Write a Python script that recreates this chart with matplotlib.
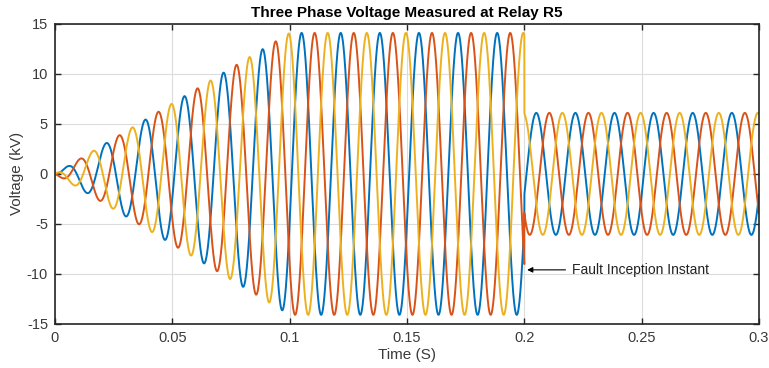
import numpy as np
import matplotlib
matplotlib.use('Agg')
import matplotlib.pyplot as plt

# values
freq_hz = 60.0
phase_deg = {'A': -20.0, 'B': -140.0, 'C': -260.0}   # phase A leads, B and C follow by 120 deg
colors = {'A': '#0072BD', 'B': '#D95319', 'C': '#EDB120'}
ramp_end = 0.1        # s, amplitude grows linearly until here
pre_fault_amp = 14.1  # kV peak before fault
fault_time = 0.2      # s
post_fault_amp = 6.1  # kV peak after fault

x_ticks = [0, 0.05, 0.1, 0.15, 0.2, 0.25, 0.3]
x_labels = ['0', '0.05', '0.1', '0.15', '0.2', '0.25', '0.3']
y_ticks = [-15, -10, -5, 0, 5, 10, 15]

plt.rcParams['font.family'] = ['Liberation Sans', 'DejaVu Sans']
plt.rcParams['axes.unicode_minus'] = False

t = np.arange(0, 0.3 + 1e-6, 1e-5)
env = np.where(t < fault_time, pre_fault_amp * np.clip(t / ramp_end, 0, 1), post_fault_amp)

fig = plt.figure(figsize=(7.69, 3.68), dpi=100)
ax = fig.add_axes([0.0715, 0.12, 0.9155, 0.815])

for ph in ['A', 'B', 'C']:
    v = env * np.sin(2 * np.pi * freq_hz * t + np.deg2rad(phase_deg[ph]))
    ax.plot(t, v, color=colors[ph], lw=1.4)

ax.set_xlim(0, 0.3)
ax.set_ylim(-15, 15)
ax.set_xticks(x_ticks)
ax.set_xticklabels(x_labels)
ax.set_yticks(y_ticks)
ax.grid(True, color='#dcdcdc', lw=0.8)
ax.set_axisbelow(True)
ax.tick_params(direction='in', top=True, right=True, length=4, width=1, pad=5,
               labelsize=10.5, colors='#262626', labelcolor='#3a3a3a')
for s in ax.spines.values():
    s.set_color('#262626')
    s.set_linewidth(1.2)

ax.set_title('Three Phase Voltage Measured at Relay R5', fontsize=11, fontweight='bold', pad=5)
ax.set_xlabel('Time (S)', fontsize=11, color='#3a3a3a', labelpad=2)
ax.set_ylabel('Voltage (kV)', fontsize=11, color='#3a3a3a', labelpad=2)

ax.annotate('Fault Inception Instant', xy=(0.2012, -9.6), xytext=(0.2205, -9.6),
            va='center', fontsize=10, color='#222222',
            arrowprops=dict(arrowstyle='-|>', color='black', lw=0.8,
                            shrinkA=3, shrinkB=0, mutation_scale=8))

fig.savefig('out.png', dpi=100)
